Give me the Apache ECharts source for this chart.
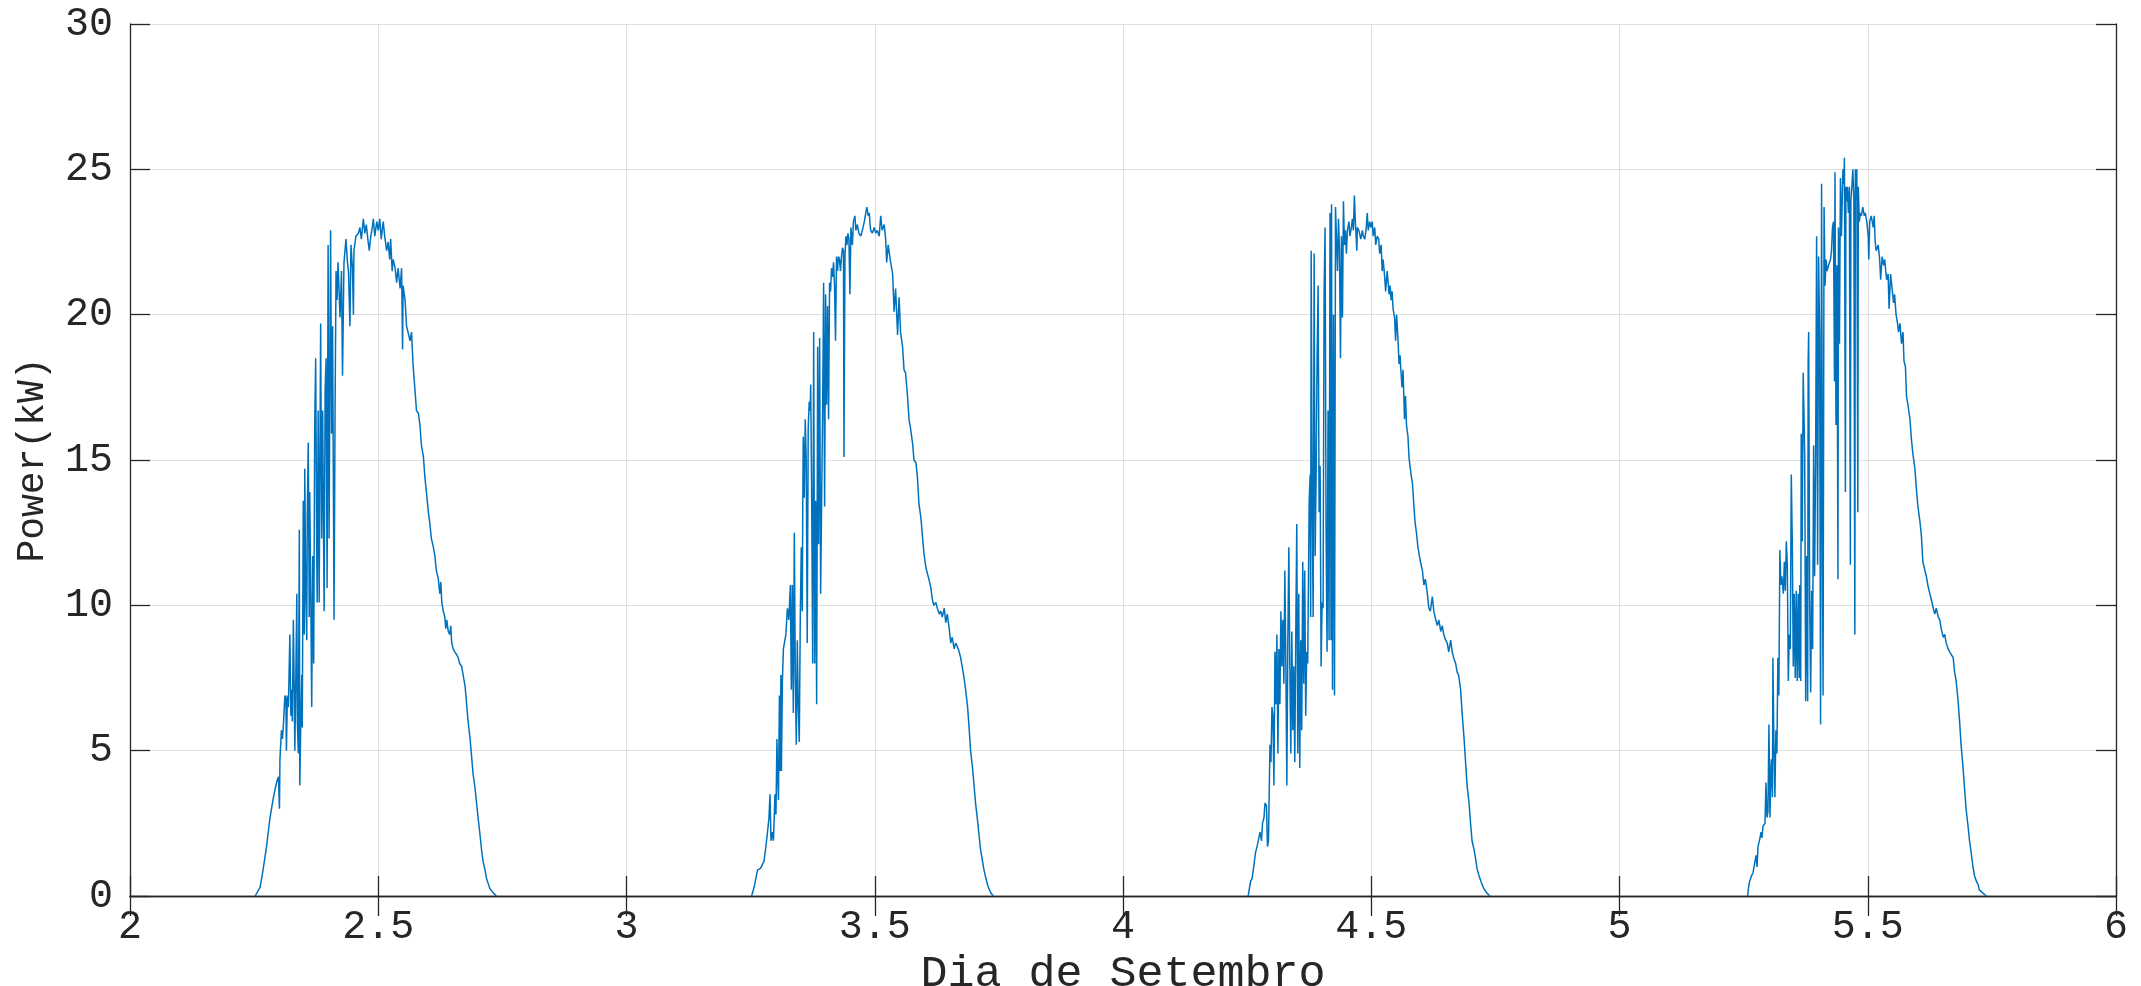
<!DOCTYPE html>
<html>
<head>
<meta charset="utf-8">
<script src="https://cdn.jsdelivr.net/npm/echarts@6/dist/echarts.min.js"></script>
<style>
html,body{margin:0;padding:0;background:#fff;}
#chart{width:2141px;height:986px;}
</style>
</head>
<body>
<div id="chart"></div>
<script>
// ---- Data ----
const xAxisTitle = 'Dia de Setembro';
const yAxisTitle = 'Power(kW)';
const xRange = [2, 6];
const yRange = [0, 30];

const day2Time = [2.252,2.262,2.268,2.275,2.282,2.289,2.295,2.299,2.301,2.302,2.305,2.307,2.309,2.312,2.314,2.315,2.317,2.319,2.322,2.324,2.325,2.327,2.329,2.331,2.332,2.334,2.336,2.337,2.339,2.341,2.342,2.344,2.346,2.347,2.349,2.351,2.352,2.354,2.356,2.357,2.359,2.361,2.362,2.364,2.366,2.368,2.369,2.370,2.372,2.374,2.376,2.377,2.379,2.381,2.384,2.386,2.388,2.391,2.393,2.395,2.397,2.399,2.401,2.404,2.406,2.408,2.411,2.413,2.415,2.417,2.419,2.423,2.426,2.428,2.431,2.435,2.438,2.440,2.443,2.445,2.448,2.450,2.451,2.455,2.460,2.463,2.466,2.470,2.473,2.476,2.479,2.482,2.485,2.488,2.490,2.493,2.497,2.500,2.503,2.506,2.510,2.513,2.517,2.520,2.523,2.525,2.528,2.530,2.534,2.537,2.540,2.544,2.547,2.549,2.550,2.554,2.557,2.560,2.564,2.567,2.570,2.574,2.577,2.581,2.584,2.587,2.591,2.594,2.597,2.601,2.604,2.607,2.611,2.614,2.617,2.621,2.624,2.626,2.628,2.631,2.634,2.636,2.638,2.641,2.644,2.646,2.648,2.651,2.654,2.658,2.661,2.664,2.668,2.671,2.675,2.678,2.681,2.685,2.688,2.691,2.695,2.698,2.701,2.705,2.708,2.711,2.715,2.718,2.722,2.725,2.732,2.738];
const day2Power = [0,0.3,0.9,1.7,2.7,3.4,3.9,4.1,3.0,4.7,5.7,5.4,5.9,6.9,6.8,5.0,6.9,6.5,9.0,6.2,7.1,6.0,9.5,6.8,5.0,7.5,10.4,6.0,4.9,12.6,3.8,6.0,7.6,5.8,13.6,9.0,14.7,10.5,8.8,13.0,15.6,9.6,13.9,10.5,6.5,11.7,9.5,8.0,16.1,18.5,12.0,10.1,16.7,10.1,19.7,12.3,16.7,9.8,17.4,18.5,10.6,22.4,12.3,22.9,15.9,19.6,9.5,16.7,21.5,20.5,21.8,19.9,21.5,17.9,21.8,22.6,21.8,21.5,19.6,22.4,21.6,20.0,22.2,22.7,22.8,23.0,22.6,23.3,22.8,23.1,22.6,22.2,22.7,23.0,23.3,22.7,23.2,22.9,23.3,22.6,23.2,22.7,22.2,22.5,21.9,22.6,21.5,21.9,21.6,21.1,21.6,20.9,21.6,18.8,21.0,20.5,19.6,19.4,19.1,19.4,18.3,17.4,16.7,16.6,16.2,15.5,15.1,14.4,13.9,13.2,12.8,12.3,12.0,11.7,11.2,10.9,10.4,10.8,10.1,9.8,9.6,9.2,9.5,9.1,9.0,9.3,8.7,8.5,8.4,8.3,8.2,8.0,7.9,7.6,7.2,6.6,6.0,5.4,4.8,4.2,3.7,3.2,2.7,2.1,1.6,1.2,0.9,0.6,0.4,0.25,0.1,0];

const day3Time = [3.252,3.257,3.264,3.270,3.274,3.277,3.280,3.284,3.287,3.289,3.291,3.294,3.296,3.299,3.301,3.303,3.304,3.306,3.308,3.309,3.311,3.312,3.314,3.316,3.319,3.321,3.324,3.327,3.330,3.332,3.334,3.336,3.338,3.340,3.342,3.344,3.346,3.348,3.350,3.352,3.354,3.355,3.356,3.358,3.360,3.362,3.364,3.366,3.368,3.370,3.371,3.373,3.375,3.377,3.379,3.381,3.383,3.385,3.387,3.389,3.391,3.393,3.395,3.397,3.399,3.401,3.403,3.405,3.407,3.409,3.411,3.413,3.415,3.417,3.419,3.421,3.423,3.425,3.427,3.429,3.431,3.433,3.435,3.437,3.438,3.440,3.442,3.444,3.446,3.448,3.450,3.452,3.455,3.457,3.460,3.462,3.465,3.468,3.472,3.475,3.479,3.482,3.484,3.487,3.489,3.491,3.492,3.495,3.499,3.502,3.505,3.509,3.512,3.515,3.519,3.522,3.524,3.527,3.530,3.532,3.536,3.539,3.542,3.546,3.549,3.552,3.556,3.559,3.562,3.566,3.569,3.572,3.576,3.579,3.583,3.586,3.589,3.593,3.596,3.599,3.603,3.606,3.609,3.613,3.616,3.619,3.623,3.626,3.630,3.633,3.636,3.640,3.643,3.646,3.650,3.653,3.656,3.660,3.663,3.666,3.670,3.673,3.677,3.680,3.683,3.687,3.690,3.693,3.697,3.700,3.703,3.707,3.710,3.713,3.717,3.720,3.724,3.727,3.730,3.734,3.739];
const day3Power = [0,0.3,0.9,0.95,0.9,1.2,1.6,2.2,2.7,3.5,1.9,2.2,1.9,3.5,2.8,5.4,4.4,3.3,6.9,4.3,7.6,4.3,7.4,8.5,8.8,9.0,9.9,9.5,10.7,7.1,10.7,6.3,12.5,7.6,5.2,8.8,6.5,5.3,9.5,12.0,9.8,13.4,15.8,13.7,16.4,15.0,8.7,16.1,17.0,16.7,17.6,13.7,8.0,19.4,8.0,13.6,6.6,18.9,12.1,19.2,10.4,13.6,16.7,21.1,13.4,20.7,16.9,20.3,16.4,21.1,20.8,21.6,21.3,21.8,21.0,19.1,22.0,21.5,22.0,21.9,21.5,22.0,22.3,22.2,15.1,22.0,22.7,22.4,22.8,22.6,20.7,23.0,22.4,23.2,23.4,22.9,23.1,22.8,22.7,22.9,23.2,23.5,23.7,23.4,23.5,23.0,22.9,22.8,23.0,22.8,22.9,22.7,23.4,22.9,23.1,22.6,21.8,22.4,22.4,21.8,21.4,20.1,20.9,19.3,20.6,19.4,18.9,18.1,18.0,17.2,16.4,16.1,15.6,15.0,14.9,14.4,13.5,13.0,12.4,11.8,11.3,11.1,10.9,10.6,10.2,10.0,10.1,9.9,9.7,9.8,9.6,9.9,9.4,9.7,9.2,8.7,8.9,8.5,8.7,8.6,8.4,8.2,7.8,7.5,7.1,6.5,5.8,5.0,4.4,3.8,3.2,2.6,2.1,1.6,1.2,0.9,0.6,0.4,0.25,0.1,0];

const day4Time = [4.252,4.257,4.260,4.264,4.267,4.270,4.274,4.276,4.279,4.281,4.284,4.286,4.289,4.291,4.293,4.296,4.298,4.300,4.302,4.304,4.306,4.308,4.310,4.312,4.314,4.316,4.318,4.320,4.322,4.324,4.326,4.328,4.330,4.332,4.334,4.336,4.338,4.340,4.342,4.344,4.346,4.348,4.350,4.352,4.354,4.356,4.358,4.360,4.362,4.364,4.366,4.368,4.370,4.372,4.375,4.377,4.378,4.379,4.381,4.383,4.385,4.387,4.389,4.391,4.393,4.395,4.397,4.399,4.401,4.403,4.405,4.407,4.409,4.411,4.413,4.415,4.417,4.419,4.420,4.422,4.424,4.426,4.428,4.430,4.432,4.434,4.436,4.438,4.440,4.442,4.444,4.446,4.448,4.450,4.452,4.455,4.457,4.460,4.462,4.464,4.466,4.468,4.471,4.472,4.475,4.479,4.482,4.484,4.487,4.490,4.492,4.494,4.497,4.499,4.502,4.504,4.507,4.509,4.512,4.515,4.517,4.520,4.522,4.524,4.527,4.529,4.532,4.536,4.538,4.540,4.542,4.544,4.547,4.549,4.551,4.554,4.556,4.558,4.560,4.562,4.564,4.567,4.569,4.571,4.574,4.576,4.578,4.581,4.583,4.586,4.588,4.591,4.594,4.597,4.599,4.603,4.606,4.609,4.613,4.616,4.619,4.623,4.626,4.630,4.633,4.636,4.640,4.643,4.646,4.650,4.653,4.656,4.660,4.663,4.666,4.670,4.673,4.676,4.680,4.683,4.687,4.690,4.693,4.697,4.700,4.703,4.707,4.710,4.713,4.717,4.720,4.723,4.727,4.733,4.739];
const day4Power = [0,0.5,0.6,1.1,1.5,1.7,1.7,2.2,1.9,2.5,2.7,3.2,3.1,1.7,1.9,5.2,4.6,6.5,6.2,3.8,8.4,6.6,9.0,4.9,8.5,6.6,9.8,7.9,9.5,7.3,11.2,8.0,3.8,8.8,12.0,7.9,4.9,9.1,5.7,7.9,4.6,9.1,12.8,4.9,10.4,4.4,8.8,5.7,11.5,7.3,11.2,6.2,8.4,8.0,13.6,14.5,9.6,22.2,13.6,9.6,22.1,11.7,14.5,18.6,21.0,13.2,14.8,7.9,10.1,9.9,20.7,23.0,12.6,8.4,16.7,8.8,23.5,8.8,23.8,7.1,20.0,6.9,23.7,22.6,21.5,23.3,22.2,18.5,22.7,19.9,23.9,22.4,22.9,22.1,22.9,23.2,22.7,23.0,23.3,22.9,24.1,23.2,22.2,23.0,22.9,22.6,22.9,22.7,22.6,23.0,23.5,22.9,23.2,23.0,23.2,22.7,23.0,22.4,22.7,22.6,22.1,22.4,21.5,21.9,21.3,20.8,21.5,20.7,21.0,20.5,20.8,20.2,19.9,19.1,20.0,19.1,18.3,18.6,18.0,17.5,18.1,16.4,17.2,16.2,15.8,15.1,14.8,14.4,14.2,13.4,12.9,12.5,12.0,11.7,11.5,11.2,10.7,10.9,10.4,9.9,9.8,10.3,9.8,9.5,9.3,9.5,9.1,9.3,9.0,8.8,8.7,8.4,8.8,8.4,8.2,8.0,7.7,7.6,7.1,6.3,5.4,4.6,3.8,3.2,2.5,1.9,1.6,1.3,0.95,0.7,0.55,0.4,0.25,0.1,0];

const day5Time = [5.258,5.260,5.262,5.266,5.269,5.271,5.275,5.277,5.279,5.283,5.285,5.287,5.289,5.293,5.295,5.297,5.299,5.301,5.303,5.305,5.306,5.308,5.309,5.311,5.313,5.315,5.317,5.319,5.321,5.323,5.325,5.327,5.330,5.332,5.334,5.336,5.338,5.340,5.342,5.344,5.346,5.348,5.350,5.352,5.354,5.356,5.358,5.360,5.362,5.363,5.365,5.366,5.368,5.370,5.373,5.375,5.377,5.379,5.380,5.381,5.383,5.385,5.387,5.389,5.391,5.393,5.395,5.397,5.399,5.401,5.403,5.405,5.407,5.409,5.410,5.412,5.414,5.416,5.418,5.421,5.423,5.425,5.427,5.429,5.431,5.433,5.434,5.436,5.438,5.440,5.441,5.443,5.445,5.447,5.450,5.452,5.453,5.455,5.456,5.458,5.459,5.461,5.463,5.465,5.466,5.468,5.470,5.472,5.474,5.475,5.477,5.478,5.480,5.481,5.483,5.485,5.487,5.490,5.493,5.495,5.498,5.501,5.502,5.504,5.507,5.511,5.513,5.515,5.517,5.521,5.524,5.526,5.529,5.532,5.534,5.538,5.541,5.543,5.546,5.549,5.552,5.554,5.557,5.560,5.562,5.565,5.568,5.571,5.573,5.576,5.578,5.581,5.585,5.588,5.591,5.595,5.598,5.601,5.605,5.608,5.611,5.615,5.618,5.621,5.625,5.628,5.632,5.635,5.638,5.642,5.645,5.648,5.652,5.655,5.658,5.662,5.665,5.668,5.672,5.675,5.678,5.682,5.685,5.688,5.692,5.695,5.698,5.702,5.705,5.709,5.712,5.715,5.719,5.722,5.725,5.732,5.739];
const day5Power = [0,0.3,0.5,0.7,0.8,1.0,1.4,1.0,1.7,2.0,2.2,2.0,2.4,2.5,3.9,2.7,2.9,5.9,2.7,4.4,4.7,3.4,8.2,5.2,3.4,5.7,4.9,8.2,6.9,11.9,10.7,11.0,10.4,11.5,10.5,12.2,11.4,7.4,9.0,8.5,14.5,12.2,7.9,10.4,7.5,10.5,7.4,10.4,7.5,10.7,7.4,15.9,12.2,18.0,15.2,6.7,11.7,6.7,18.4,19.4,10.2,7.0,10.5,8.5,15.5,11.0,15.0,22.7,11.4,22.0,19.4,5.9,24.5,11.0,6.9,23.7,21.0,21.9,21.5,21.7,21.7,21.9,22.2,23.0,23.2,17.7,24.9,16.2,21.7,10.9,23.0,19.0,24.7,22.7,25.0,24.5,25.4,13.9,24.4,23.9,24.4,23.5,24.4,11.4,23.9,24.4,25.0,24.0,9.0,25.0,24.0,25.0,13.2,24.4,23.2,23.5,23.4,23.7,23.4,23.5,23.2,22.7,21.9,23.2,23.4,23.0,23.4,22.5,22.2,22.4,21.9,21.2,22.0,21.7,21.9,21.2,21.4,20.2,21.4,20.9,20.4,20.7,20.0,19.7,19.4,19.7,19.0,19.4,18.4,18.2,17.2,16.9,16.4,15.7,15.2,14.7,14.0,13.4,12.9,12.4,11.5,11.2,11.0,10.7,10.4,10.2,9.9,9.7,9.9,9.6,9.5,9.2,8.9,9.0,8.7,8.5,8.4,8.4,8.2,7.7,7.4,6.7,6.0,5.2,4.4,3.7,3.0,2.4,1.9,1.4,1.0,0.7,0.5,0.4,0.2,0.1,0];

// ---- Chart ----
const lineColor = '#0072BD';
const axisColor = '#262626';
const gridColor = '#dfdfdf';
const fontFamily = '"Liberation Mono", "DejaVu Sans Mono", monospace';

function zip(t, p) { return t.map((v, i) => [v, p[i]]); }
const days = [[day2Time, day2Power], [day3Time, day3Power], [day4Time, day4Power], [day5Time, day5Power]];

const chart = echarts.init(document.getElementById('chart'), null, { renderer: 'canvas' });

const tickLen = 20;
const option = {
  animation: false,
  backgroundColor: '#ffffff',
  grid: { left: 130, top: 24, right: 25, bottom: 90, containLabel: false, outerBoundsMode: 'none' },
  xAxis: [
    {
      type: 'value', min: xRange[0], max: xRange[1], interval: 0.5,
      name: xAxisTitle, nameLocation: 'middle', nameGap: 42,
      nameTextStyle: { fontFamily, fontSize: 45, color: axisColor },
      axisLine: { show: true, onZero: false, lineStyle: { color: axisColor, width: 1.3 } },
      axisTick: { show: true, inside: true, length: tickLen, lineStyle: { color: axisColor, width: 1.3 } },
      axisLabel: { fontFamily, fontSize: 40, color: axisColor, margin: 11 },
      splitLine: { show: true, lineStyle: { color: gridColor, width: 1 } }
    },
    {
      type: 'value', position: 'top', min: xRange[0], max: xRange[1], interval: 0.5,
      axisLine: { show: true, lineStyle: { color: axisColor, width: 1.3 } },
      axisTick: { show: true, inside: true, length: tickLen, lineStyle: { color: axisColor, width: 1.3 } },
      axisLabel: { show: false }, splitLine: { show: false }
    }
  ],
  yAxis: [
    {
      type: 'value', min: yRange[0], max: yRange[1], interval: 5,
      name: yAxisTitle, nameLocation: 'middle', nameGap: 78, nameRotate: 90,
      nameTextStyle: { fontFamily, fontSize: 38, color: axisColor },
      axisLine: { show: true, onZero: false, lineStyle: { color: axisColor, width: 1.3 } },
      axisTick: { show: true, inside: true, length: tickLen, lineStyle: { color: axisColor, width: 1.3 } },
      axisLabel: { fontFamily, fontSize: 40, color: axisColor, margin: 17 },
      splitLine: { show: true, lineStyle: { color: gridColor, width: 1 } }
    },
    {
      type: 'value', position: 'right', min: yRange[0], max: yRange[1], interval: 5,
      axisLine: { show: true, lineStyle: { color: axisColor, width: 1.3 } },
      axisTick: { show: true, inside: true, length: tickLen, lineStyle: { color: axisColor, width: 1.3 } },
      axisLabel: { show: false }, splitLine: { show: false }
    }
  ],
  series: days.map((d, i) => ({
    name: 'Power', type: 'line', xAxisIndex: 0, yAxisIndex: 0,
    data: zip(d[0], d[1]),
    showSymbol: false, symbol: 'none', smooth: false,
    lineStyle: { color: lineColor, width: 1.5 },
    z: 2
  }))
};
chart.setOption(option);
</script>
</body>
</html>
